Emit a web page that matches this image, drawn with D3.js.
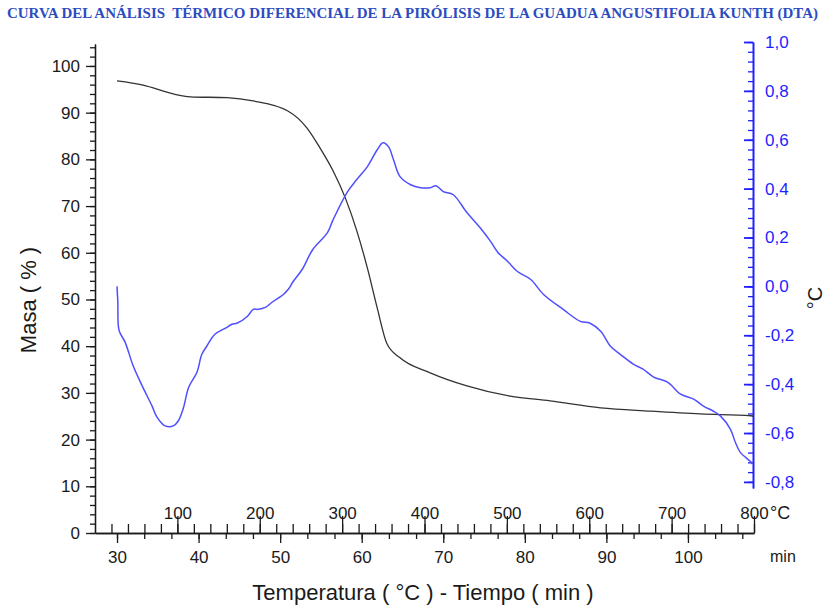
<!DOCTYPE html>
<html>
<head>
<meta charset="utf-8">
<script src="https://cdn.jsdelivr.net/npm/d3@7"></script>
<style>
  html, body { margin: 0; padding: 0; background: #fff; }
  svg { display: block; }
  .ax text { font-family: "Liberation Sans", Arial, sans-serif; font-size: 17px; }
</style>
</head>
<body>
<svg id="chart" width="825" height="605"></svg>
<script>
// Masa (TG) vs tiempo
const massTime = [30.0, 33.2, 36.9, 39.0, 43.5, 46.7, 50.9, 53.3, 54.9, 56.5, 58.0, 59.4, 60.7, 61.9, 63.1, 64.7, 68.4, 72.9, 78.2, 83.1, 89.3, 95.4, 101.5, 107.7, 108.1];
const massValues = [96.8, 95.9, 94.0, 93.4, 93.2, 92.5, 90.4, 86.7, 82.4, 77.5, 71.7, 64.7, 56.7, 48.2, 40.5, 37.5, 34.3, 31.5, 29.3, 28.3, 26.8, 26.1, 25.5, 25.1, 25.0];

// Señal DTA (°C) vs tiempo
const dtaTime = [30.0, 30.1, 30.25, 31.0, 32.0, 33.1, 34.3, 34.9, 35.9, 36.9, 37.5, 38.1, 38.8, 39.8, 40.4, 41.0, 42.0, 43.3, 44.1, 44.7, 46.0, 46.7, 47.3, 48.2, 49.0, 50.4, 51.0, 51.6, 52.7, 54.0, 55.8, 56.5, 58.2, 59.4, 60.7, 61.9, 62.6, 63.3, 63.9, 64.7, 66.0, 67.2, 68.4, 69.1, 70.0, 71.2, 72.9, 74.5, 75.8, 76.7, 77.9, 79.1, 80.7, 82.3, 84.7, 86.8, 88.0, 89.3, 90.5, 91.7, 93.3, 94.5, 95.8, 97.5, 99.1, 100.7, 101.9, 103.1, 104.0, 105.2, 105.8, 106.4, 107.7, 107.9];
const dtaValues = [0.0, -0.065, -0.18, -0.229, -0.327, -0.408, -0.49, -0.535, -0.571, -0.571, -0.551, -0.502, -0.412, -0.351, -0.278, -0.245, -0.196, -0.171, -0.155, -0.151, -0.122, -0.094, -0.094, -0.086, -0.065, -0.033, -0.012, 0.02, 0.069, 0.151, 0.22, 0.273, 0.384, 0.437, 0.49, 0.559, 0.588, 0.571, 0.518, 0.449, 0.416, 0.404, 0.404, 0.412, 0.388, 0.376, 0.302, 0.241, 0.184, 0.139, 0.102, 0.061, 0.029, -0.033, -0.094, -0.143, -0.151, -0.184, -0.245, -0.278, -0.318, -0.339, -0.371, -0.392, -0.441, -0.461, -0.49, -0.51, -0.531, -0.584, -0.637, -0.678, -0.718, -0.727];

// Etiquetas de los ejes
const massTicks = [0, 10, 20, 30, 40, 50, 60, 70, 80, 90, 100];
const dtaTicks = [-0.8, -0.6, -0.4, -0.2, 0.0, 0.2, 0.4, 0.6, 0.8, 1.0];
const timeTicks = [30, 40, 50, 60, 70, 80, 90, 100];
const tempTicks = [100, 200, 300, 400, 500, 600, 700, 800];

const titleText = "CURVA DEL ANÁLISIS  TÉRMICO DIFERENCIAL DE LA PIRÓLISIS DE LA GUADUA ANGUSTIFOLIA KUNTH (DTA)";

const svg = d3.select("#chart");
const BLUE_AX = "#1f1fff";
const BLUE_LINE = "#4f4fff";
const INK = "#1a1a1a";

// Escalas
const x = d3.scaleLinear().domain([27.3, 108.1]).range([95, 754]);
const xTemp = d3.scaleLinear().domain([0, 800]).range([95, 754]);
const yMass = d3.scaleLinear().domain([0, 104.7]).range([533, 44]);
const yDta = d3.scaleLinear().domain([-0.825, 1.0]).range([488, 42]);

const comma = v => d3.format(".1f")(v).replace("−", "-").replace(".", ",");

// Título
svg.append("text")
  .attr("x", 7).attr("y", 18)
  .attr("textLength", 811).attr("lengthAdjust", "spacingAndGlyphs")
  .style("font-family", "'Liberation Serif', 'Times New Roman', serif")
  .style("font-weight", "bold").style("font-size", "14px")
  .style("fill", "#2c4cc0")
  .style("white-space", "pre")
  .attr("xml:space", "preserve")
  .text(titleText);

function styleAxis(g, color) {
  g.selectAll("path, line").attr("stroke", color).attr("stroke-width", 1.3);
  g.selectAll("text").attr("fill", color);
}

// Eje izquierdo: masa
const gL = svg.append("g").attr("class", "ax").attr("transform", "translate(95,0)");
gL.call(d3.axisLeft(yMass).tickValues(massTicks).tickSize(9).tickSizeOuter(0).tickPadding(6));
svg.append("g").attr("class", "ax").attr("transform", "translate(95,0)")
  .call(d3.axisLeft(yMass).tickValues(d3.range(0, 105, 2)).tickSize(5).tickSizeOuter(0).tickFormat(""))
  .call(g => styleAxis(g, INK));
styleAxis(gL, INK);

// Eje inferior: tiempo (min)
const gB = svg.append("g").attr("class", "ax").attr("transform", "translate(0,533)");
gB.call(d3.axisBottom(x).tickValues(timeTicks).tickSize(10).tickSizeOuter(0).tickPadding(8));
svg.append("g").attr("class", "ax").attr("transform", "translate(0,533)")
  .call(d3.axisBottom(x).tickValues(d3.range(0, 24).map(i => 30 + i * 10 / 3)).tickSize(6).tickSizeOuter(0).tickFormat(""))
  .call(g => styleAxis(g, INK));
styleAxis(gB, INK);

// Eje de temperatura sobre la misma línea base
const gT = svg.append("g").attr("class", "ax").attr("transform", "translate(0,533)");
gT.call(d3.axisTop(xTemp).tickValues(tempTicks).tickSize(17).tickSizeOuter(0).tickPadding(-3));
gT.select(".domain").remove();
svg.append("g").attr("class", "ax").attr("transform", "translate(0,533)")
  .call(d3.axisTop(xTemp).tickValues(d3.range(20, 801, 20)).tickSize(9).tickSizeOuter(0).tickFormat(""))
  .call(g => g.select(".domain").remove())
  .call(g => styleAxis(g, INK));
styleAxis(gT, INK);

// Eje derecho: DTA (°C)
const gR = svg.append("g").attr("class", "ax").attr("transform", "translate(753,0)");
gR.call(d3.axisRight(yDta).tickValues(dtaTicks).tickSize(-9).tickSizeOuter(0).tickPadding(12).tickFormat(comma));
svg.append("g").attr("class", "ax").attr("transform", "translate(753,0)")
  .call(d3.axisRight(yDta).tickValues(d3.range(0, 46).map(i => -0.8 + i * 0.04)).tickSize(-5).tickSizeOuter(0).tickFormat(""))
  .call(g => styleAxis(g, BLUE_AX));
styleAxis(gR, BLUE_AX);
gR.selectAll("path, line").attr("stroke-width", 1.8);

// Curvas
const massLine = d3.line().x((d, i) => x(massTime[i])).y(d => yMass(d)).curve(d3.curveMonotoneX);
svg.append("path").datum(massValues)
  .attr("d", massLine).attr("fill", "none")
  .attr("stroke", "#333").attr("stroke-width", 1.3);

const dtaLine = d3.line().x((d, i) => x(dtaTime[i])).y(d => yDta(d)).curve(d3.curveCatmullRom.alpha(0.5));
svg.append("path").datum(dtaValues)
  .attr("d", dtaLine).attr("fill", "none")
  .attr("stroke", BLUE_LINE).attr("stroke-width", 1.5)
  .attr("stroke-linejoin", "round");

// Rótulos de ejes
const font = "'Liberation Sans', Arial, sans-serif";
svg.append("text")
  .attr("transform", "translate(36,300) rotate(-90)")
  .attr("text-anchor", "middle")
  .style("font-family", font).style("font-size", "22px").style("fill", INK)
  .text("Masa ( % )");

svg.append("text")
  .attr("x", 423).attr("y", 600)
  .attr("text-anchor", "middle")
  .style("font-family", font).style("font-size", "22px").style("fill", INK)
  .text("Temperatura ( °C ) - Tiempo ( min )");

svg.append("text")
  .attr("transform", "translate(822,298) rotate(-90)")
  .attr("text-anchor", "middle")
  .style("font-family", font).style("font-size", "20px").style("fill", INK)
  .text("°C");

svg.append("text")
  .attr("x", 770).attr("y", 519)
  .style("font-family", font).style("font-size", "18px").style("fill", INK)
  .text("°C");

svg.append("text")
  .attr("x", 770).attr("y", 562)
  .style("font-family", font).style("font-size", "16px").style("fill", INK)
  .text("min");
</script>
</body>
</html>
